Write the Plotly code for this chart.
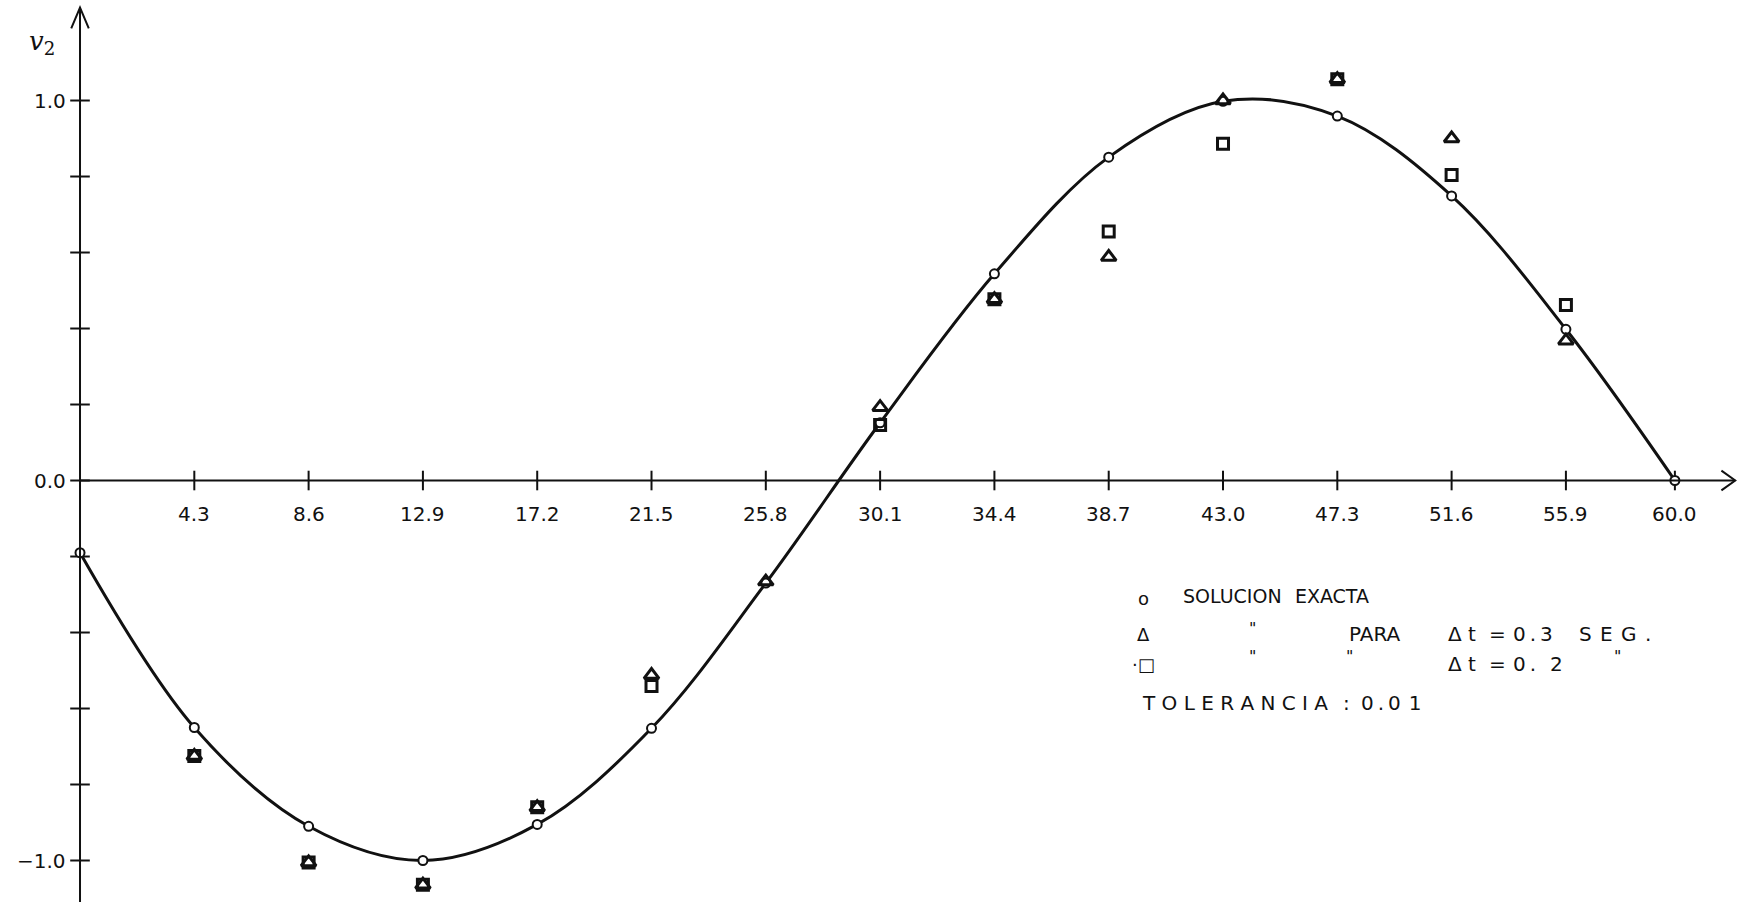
import plotly.graph_objects as go

# ---------------- data ----------------
t_exact = [0.0, 4.3, 8.6, 12.9, 17.2, 21.5, 25.8, 30.1, 34.4, 38.7, 43.0, 47.3, 51.6, 55.9, 60.0]
v_exact = [-0.19, -0.65, -0.91, -1.0, -0.905, -0.652, -0.27, 0.152, 0.544, 0.851, 0.998, 0.959, 0.749, 0.398, 0.0]

t_tri = [4.3, 8.6, 12.9, 17.2, 21.5, 25.8, 30.1, 34.4, 38.7, 43.0, 47.3, 51.6, 55.9]
v_tri = [-0.725, -1.005, -1.064, -0.86, -0.512, -0.266, 0.193, 0.477, 0.588, 1.0, 1.056, 0.90, 0.368]

t_sq = [4.3, 8.6, 12.9, 17.2, 21.5, 30.1, 34.4, 38.7, 43.0, 47.3, 51.6, 55.9]
v_sq = [-0.725, -1.005, -1.064, -0.86, -0.541, 0.146, 0.477, 0.655, 0.886, 1.056, 0.804, 0.462]

x_ticks = [4.3, 8.6, 12.9, 17.2, 21.5, 25.8, 30.1, 34.4, 38.7, 43.0, 47.3, 51.6, 55.9, 60.0]
x_tick_labels = ["4.3", "8.6", "12.9", "17.2", "21.5", "25.8", "30.1", "34.4", "38.7",
                 "43.0", "47.3", "51.6", "55.9", "60.0"]
y_major = [1.0, 0.0, -1.0]
y_major_labels = ["1.0", "0.0", "\u22121.0"]
y_minor = [0.2, 0.4, 0.6, 0.8, -0.2, -0.4, -0.6, -0.8]

# ---------------- figure ----------------
W, H = 1744, 902
XMIN, XMAX = -3.01, 62.60
YMIN, YMAX = -1.1092, 1.2645
INK = "#111111"
FONT = "DejaVu Sans"

fig = go.Figure()

# axes lines
fig.add_shape(type="line", x0=0, x1=0, y0=YMIN, y1=YMAX - 0.02,
              line=dict(color=INK, width=2))
fig.add_shape(type="line", x0=0, x1=62.27, y0=0, y1=0,
              line=dict(color=INK, width=2))
# arrowheads (open chevrons)
fig.add_shape(type="path", path="M -0.33 1.19 L 0 1.2445 L 0.33 1.19",
              line=dict(color=INK, width=2))
fig.add_shape(type="path", path="M 61.75 0.026 L 62.27 0 L 61.75 -0.026",
              line=dict(color=INK, width=2))

# tick marks
fig.add_trace(go.Scatter(x=x_ticks, y=[0] * len(x_ticks), mode="markers",
                         marker=dict(symbol="line-ns", size=14, color=INK,
                                     line=dict(color=INK, width=2)),
                         hoverinfo="skip", showlegend=False))
fig.add_trace(go.Scatter(x=[0] * (len(y_major) + len(y_minor)), y=y_major + y_minor,
                         mode="markers",
                         marker=dict(symbol="line-ew", size=14, color=INK,
                                     line=dict(color=INK, width=2)),
                         hoverinfo="skip", showlegend=False))

# exact solution curve
fig.add_trace(go.Scatter(x=t_exact, y=v_exact, mode="lines",
                         line=dict(color=INK, width=3, shape="spline", smoothing=1.0),
                         hoverinfo="skip", showlegend=False))
fig.add_trace(go.Scatter(x=t_exact, y=v_exact, mode="markers",
                         marker=dict(symbol="circle", size=9, color="white",
                                     line=dict(color=INK, width=2)),
                         showlegend=False))
# dt = 0.2 squares
fig.add_trace(go.Scatter(x=t_sq, y=v_sq, mode="markers",
                         marker=dict(symbol="square-open", size=11, color=INK,
                                     line=dict(color=INK, width=3)),
                         showlegend=False))
# dt = 0.3 triangles
fig.add_trace(go.Scatter(x=t_tri, y=v_tri, mode="markers",
                         marker=dict(symbol="triangle-up-open", size=13, color=INK,
                                     line=dict(color=INK, width=3)),
                         showlegend=False))

# tick labels
for xv, lab in zip(x_ticks, x_tick_labels):
    fig.add_annotation(x=xv, y=0, xref="x", yref="y", text=lab, showarrow=False,
                       yshift=-33, font=dict(family=FONT, size=20, color=INK))
for yv, lab in zip(y_major, y_major_labels):
    fig.add_annotation(x=0, y=yv, xref="x", yref="y", text=lab, showarrow=False,
                       xanchor="right", xshift=-12,
                       font=dict(family=FONT, size=20, color=INK))

# axis label
fig.add_annotation(x=42 / W, y=1 - 24 / H, xref="paper", yref="paper",
                   text="<i>v</i><sub>2</sub>", showarrow=False, xanchor="center",
                   font=dict(family="DejaVu Serif", size=26, color=INK))


def txt(px, py, s, size=20, anchor="left"):
    fig.add_annotation(x=px / W, y=1 - py / H, xref="paper", yref="paper",
                       text=s, showarrow=False, xanchor=anchor, yanchor="middle",
                       font=dict(family=FONT, size=size, color=INK))


EN = "\u2002"
TH = "\u2009"
HAIR = "\u200a"
SP = " "
# legend block
txt(1143, 598, "o", 18, "center")
txt(1181, 596, "SOLUCION" + EN + HAIR + HAIR + "EXACTA", 19)

txt(1143, 634, "\u0394", 18, "center")
txt(1252, 628, "\"", 16, "center")
txt(1347, 634, "PARA")
txt(1446, 634, "\u0394")
txt(1466, 634, "t")
txt(1487, 634, "=")
txt(1511, 634, TH.join("0.3"))
txt(1577, 634, (SP + HAIR).join("SEG."))

txt(1143, 664, "\u00b7\u25a1", 18, "center")
txt(1252, 656, "\"", 16, "center")
txt(1349, 656, "\"", 16, "center")
txt(1446, 664, "\u0394")
txt(1466, 664, "t")
txt(1487, 664, "=")
txt(1511, 664, "0" + TH + "." + TH + EN + "2")
txt(1617, 656, "\"", 16, "center")

txt(1140, 703, SP.join("TOLERANCIA"))
txt(1346, 703, ":", 20, "center")
txt(1359, 703, TH.join("0.0") + TH + TH + "1")

fig.update_layout(
    width=W, height=H,
    margin=dict(l=0, r=0, t=0, b=0),
    paper_bgcolor="white", plot_bgcolor="white",
    xaxis=dict(range=[XMIN, XMAX], visible=False, fixedrange=True),
    yaxis=dict(range=[YMIN, YMAX], visible=False, fixedrange=True),
    showlegend=False,
)

fig.write_html("out.html")
